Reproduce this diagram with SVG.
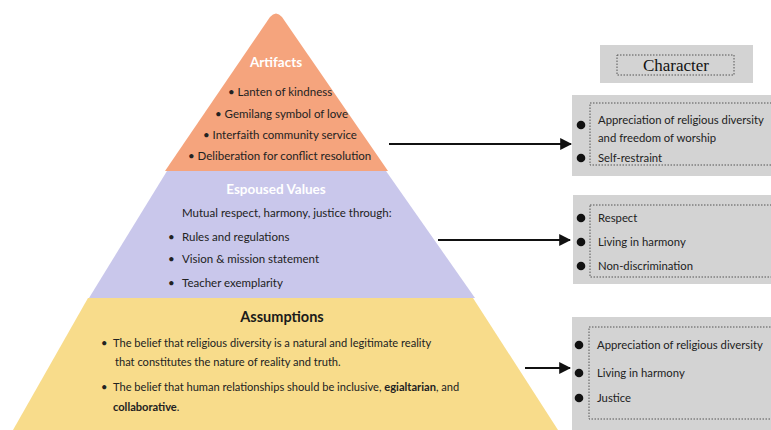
<svg xmlns="http://www.w3.org/2000/svg" width="771" height="430" viewBox="0 0 771 430">
<defs>
<marker id="ah" viewBox="0 0 10 10" refX="9" refY="5" markerWidth="6" markerHeight="6" markerUnits="strokeWidth" orient="auto">
<path d="M0,0 L10,5 L0,10 z" fill="#111"/>
</marker>
<style>
.t{font-family:Lato,"Open Sans","Liberation Sans",sans-serif;fill:#222;font-size:11.5px}
.a{font-size:11.1px}
.h{font-family:Lato,"Open Sans","Liberation Sans",sans-serif;font-weight:bold;font-size:13.5px;text-anchor:middle}
.w{fill:#ffffff}
.box{fill:#d3d3d3}
.dot{fill:none;stroke:#555;stroke-width:1;stroke-dasharray:1.5,1.5}
.b{fill:#111}
.c{stroke:#111;stroke-width:2;fill:none;marker-end:url(#ah)}
.r{font-family:Lato,"Open Sans","Liberation Sans",sans-serif;fill:#222;font-size:11.3px}
</style>
</defs>
<rect width="771" height="430" fill="#ffffff"/>
<g id="artifacts">
<path d="M165,171 L270,17 Q276,10 282,17 L388,171 Z" fill="#f5a47d"/>
<text class="h w" x="276" y="67">Artifacts</text>
<text class="t" x="228" y="96">• Lanten of kindness</text>
<text class="t" x="215" y="118">• Gemilang symbol of love</text>
<text class="t" x="203" y="139">• Interfaith community service</text>
<text class="t" x="188" y="160">• Deliberation for conflict resolution</text>
</g>
<g id="espoused">
<path d="M167,171 L386,171 L475,298 L89,298 Z" fill="#c9c7eb"/>
<text class="h w" x="276" y="194">Espoused Values</text>
<text class="t" x="182" y="217">Mutual respect, harmony, justice through:</text>
<text class="t" x="168" y="241">•</text><text class="t" x="182" y="241">Rules and regulations</text>
<text class="t" x="168" y="263">•</text><text class="t" x="182" y="263">Vision &amp; mission statement</text>
<text class="t" x="168" y="287">•</text><text class="t" x="182" y="287">Teacher exemplarity</text>
</g>
<g id="assumptions">
<path d="M88,298 L473,298 L558,430 L13,430 Z" fill="#f8dc8b"/>
<text class="h" x="282" y="322" style="fill:#1a1a1a;font-size:14.5px">Assumptions</text>
<text class="t a" x="101" y="347">•</text><text class="t a" x="113" y="347">The belief that religious diversity is a natural and legitimate reality</text>
<text class="t a" x="115" y="366">that constitutes the nature of reality and truth.</text>
<text class="t a" x="101" y="391">•</text><text class="t a" x="113" y="391">The belief that human relationships should be inclusive, <tspan font-weight="bold">egialtarian</tspan>, and</text>
<text class="t a" x="113" y="411"><tspan font-weight="bold">collaborative</tspan>.</text>
</g>
<g id="character">
<rect class="box" x="600" y="45" width="153" height="38"/>
<rect class="dot" x="617" y="55" width="117" height="20"/>
<text x="676" y="71" text-anchor="middle" style="font-family:'Liberation Serif','Times New Roman',serif;font-size:17px;fill:#111">Character</text>
</g>
<g id="char1">
<rect class="box" x="572" y="95" width="199" height="81"/>
<rect class="dot" x="590" y="103" width="190" height="62"/>
<circle class="b" cx="581" cy="125" r="4.3"/>
<circle class="b" cx="581" cy="158" r="4.3"/>
<text class="r" x="598" y="124">Appreciation of religious diversity</text>
<text class="r" x="598" y="142">and freedom of worship</text>
<text class="r" x="598" y="162">Self-restraint</text>
</g>
<g id="char2">
<rect class="box" x="573" y="195" width="198" height="89"/>
<rect class="dot" x="590" y="205" width="190" height="72"/>
<circle class="b" cx="581" cy="218" r="4.3"/>
<circle class="b" cx="581" cy="242" r="4.3"/>
<circle class="b" cx="581" cy="266" r="4.3"/>
<text class="r" x="598" y="222">Respect</text>
<text class="r" x="598" y="246">Living in harmony</text>
<text class="r" x="598" y="270">Non-discrimination</text>
</g>
<g id="char3">
<rect class="box" x="572" y="317" width="199" height="113"/>
<rect class="dot" x="589" y="327" width="190" height="92"/>
<circle class="b" cx="579" cy="345" r="4.3"/>
<circle class="b" cx="579" cy="373" r="4.3"/>
<circle class="b" cx="579" cy="398" r="4.3"/>
<text class="r" x="597" y="349">Appreciation of religious diversity</text>
<text class="r" x="597" y="377">Living in harmony</text>
<text class="r" x="597" y="402">Justice</text>
</g>
<g id="connectors">
<line class="c" x1="389" y1="144" x2="571" y2="144"/>
<line class="c" x1="438" y1="240" x2="570" y2="240"/>
<line class="c" x1="525" y1="368" x2="570" y2="368"/>
</g>
</svg>
